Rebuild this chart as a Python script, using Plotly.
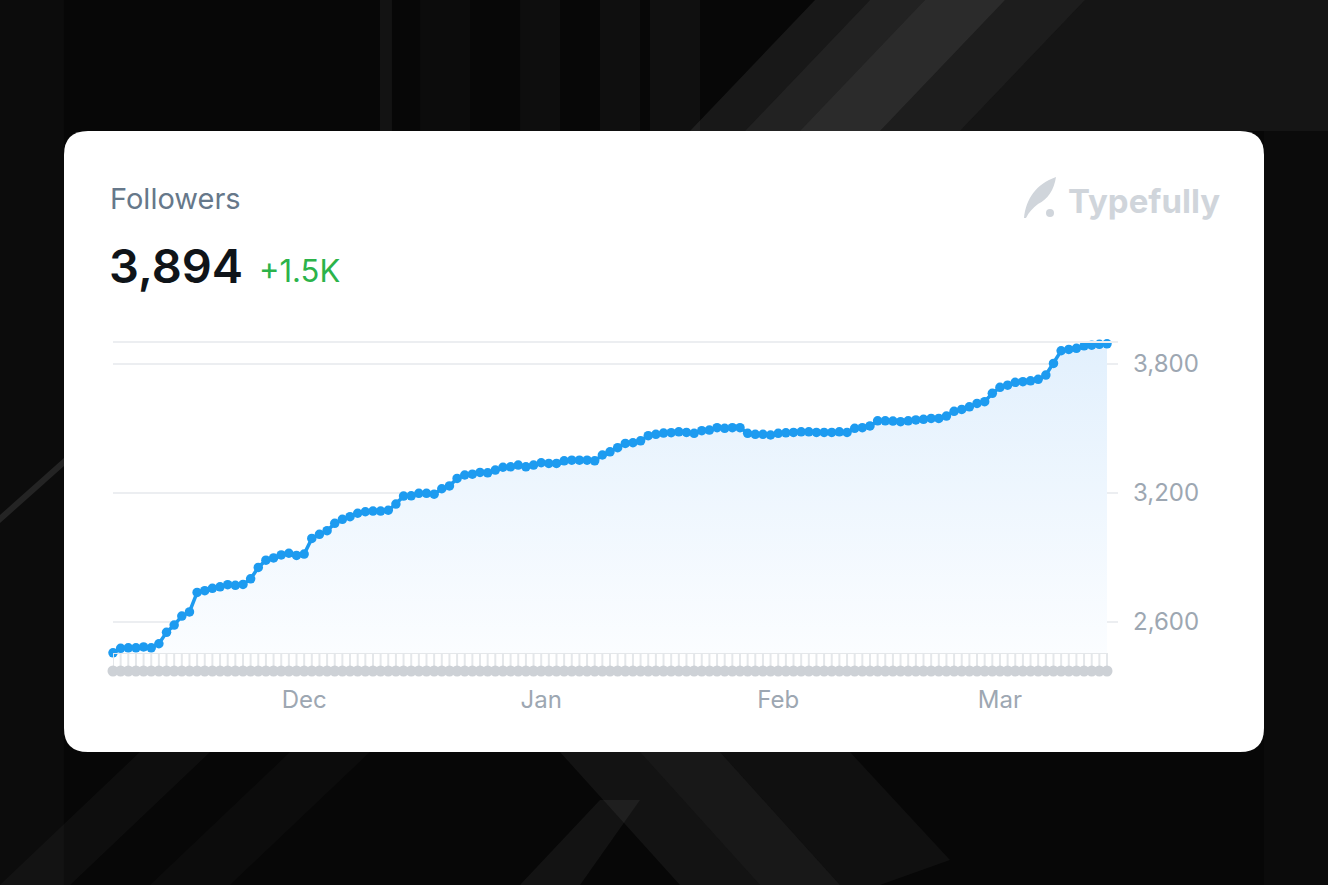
import plotly.graph_objects as go
import pandas as pd

W, H = 1328, 885

# ---------------- data ----------------
dates = pd.date_range("2023-11-06", periods=131, freq="D")
followers = [
    2457, 2478, 2480, 2480, 2484, 2480, 2499, 2552, 2586, 2628,
    2647, 2738, 2746, 2757, 2764, 2774, 2771, 2775, 2801, 2854,
    2888, 2898, 2912, 2920, 2910, 2916, 2989, 3008, 3025, 3059,
    3078, 3090, 3106, 3113, 3116, 3116, 3120, 3149, 3186, 3187,
    3199, 3199, 3195, 3220, 3233, 3268, 3284, 3288, 3296, 3294,
    3307, 3320, 3322, 3330, 3322, 3330, 3341, 3338, 3338, 3350,
    3353, 3353, 3353, 3350, 3377, 3392, 3411, 3431, 3434, 3443,
    3467, 3473, 3479, 3481, 3485, 3482, 3478, 3490, 3493, 3504,
    3501, 3504, 3504, 3478, 3473, 3473, 3470, 3478, 3480, 3482,
    3485, 3485, 3482, 3482, 3482, 3485, 3482, 3501, 3504, 3512,
    3536, 3536, 3535, 3532, 3536, 3540, 3543, 3547, 3547, 3558,
    3580, 3589, 3601, 3617, 3625, 3664, 3692, 3702, 3715, 3718,
    3722, 3729, 3749, 3803, 3862, 3868, 3873, 3885, 3888, 3892,
    3894,
]
post_strip = [0] * len(dates)          # baseline activity strip (one dot per day)
y_ticks = [2600, 3200, 3800]
month_ticks = ["2023-12-01", "2024-01-01", "2024-02-01", "2024-03-01"]
month_labels = ["Dec", "Jan", "Feb", "Mar"]
title_text = "Followers"
total_text = "3,894"
change_text = "+1.5K"
brand_text = "Typefully"

# ---------------- helpers ----------------
def px(x):
    return x / W


def py(y):
    return 1 - y / H


Y_MIN, Y_MAX = 2456, 3898
x_end = dates[-1] + pd.Timedelta(hours=34.5)

BLUE = "#1d9bf0"
GRID = "#eceef1"
TICK = "#9da7b2"

fig = go.Figure()

# area + line
fig.add_trace(go.Scatter(
    x=dates, y=followers, mode="lines+markers",
    line=dict(color=BLUE, width=3.5),
    marker=dict(size=9.5, color=BLUE),
    fill="tozeroy",
    fillgradient=dict(type="vertical",
                      colorscale=[[0, "#fbfdff"], [1, "#e2f0fd"]],
                      start=Y_MIN, stop=max(followers)),
    cliponaxis=False, hoverinfo="skip", xaxis="x", yaxis="y",
))

# strip: stems
sx, sy = [], []
for d in dates:
    sx += [d, d, None]
    sy += [0, 1, None]
fig.add_trace(go.Scatter(x=sx, y=sy, mode="lines",
                         line=dict(color="#e4e7ea", width=2),
                         hoverinfo="skip", xaxis="x2", yaxis="y2"))
fig.add_trace(go.Scatter(x=[dates[0], dates[-1]], y=[1, 1], mode="lines",
                         line=dict(color="#e4e7ea", width=2),
                         hoverinfo="skip", xaxis="x2", yaxis="y2"))
fig.add_trace(go.Scatter(x=dates, y=post_strip, mode="markers",
                         marker=dict(size=11, color="#cdd1d6"),
                         cliponaxis=False, hoverinfo="skip",
                         xaxis="x2", yaxis="y2"))

# ---------------- shapes ----------------
shapes = []


def poly(points, color):
    d = "M " + " L ".join(f"{px(x):.5f},{py(y):.5f}" for x, y in points) + " Z"
    shapes.append(dict(type="path", path=d, xref="paper", yref="paper",
                       fillcolor=color, line=dict(width=0), layer="below"))


# background streaks (decorative)
for a, b, op in [(380, 392, 0.05), (420, 470, 0.025), (520, 560, 0.03),
                 (600, 640, 0.035), (650, 700, 0.04)]:
    poly([(a, 0), (b, 0), (b, 131), (a, 131)], f"rgba(255,255,255,{op})")
poly([(690, 131), (745, 131), (870, 0), (815, 0)], "rgba(255,255,255,0.07)")
poly([(745, 131), (800, 131), (925, 0), (870, 0)], "rgba(255,255,255,0.11)")
poly([(800, 131), (880, 131), (1005, 0), (925, 0)], "rgba(255,255,255,0.15)")
poly([(880, 131), (960, 131), (1085, 0), (1005, 0)], "rgba(255,255,255,0.09)")
poly([(960, 131), (1328, 131), (1328, 0), (1085, 0)], "rgba(255,255,255,0.06)")
poly([(1264, 131), (1328, 131), (1328, 885), (1264, 885)], "rgba(255,255,255,0.02)")
poly([(0, 0), (64, 0), (64, 885), (0, 885)], "rgba(255,255,255,0.025)")
poly([(0, 515), (64, 458), (64, 466), (0, 523)], "rgba(255,255,255,0.10)")
poly([(0, 885), (70, 885), (210, 752), (140, 752)], "rgba(255,255,255,0.03)")
poly([(150, 885), (230, 885), (370, 752), (290, 752)], "rgba(255,255,255,0.025)")
poly([(560, 752), (640, 752), (760, 885), (680, 885)], "rgba(255,255,255,0.05)")
poly([(640, 752), (720, 752), (840, 885), (760, 885)], "rgba(255,255,255,0.07)")
poly([(720, 752), (850, 752), (950, 860), (880, 885), (840, 885)], "rgba(255,255,255,0.04)")
poly([(520, 885), (600, 800), (640, 800), (580, 885)], "rgba(255,255,255,0.05)")

# card with rounded corners
x0, y0, x1, y1, r = 64, 131, 1264, 752, 24
pts = [
    ("M", (x0 + r, y0)), ("L", (x1 - r, y0)), ("Q", (x1, y0), (x1, y0 + r)),
    ("L", (x1, y1 - r)), ("Q", (x1, y1), (x1 - r, y1)), ("L", (x0 + r, y1)),
    ("Q", (x0, y1), (x0, y1 - r)), ("L", (x0, y0 + r)), ("Q", (x0, y0), (x0 + r, y0)),
]
path = ""
for p in pts:
    coords = " ".join(f"{px(a):.5f},{py(b):.5f}" for a, b in p[1:])
    path += f"{p[0]} {coords} "
path += "Z"
shapes.append(dict(type="path", path=path, xref="paper", yref="paper",
                   fillcolor="#ffffff", line=dict(width=0), layer="below"))

# feather logo
feather = [("M", (1024, 218)),
           ("C", (1026, 199), (1036, 184), (1056, 177)),
           ("C", (1054, 190), (1048, 199), (1038, 204)),
           ("C", (1033, 208), (1029, 212), (1026, 218))]
fpath = ""
for p in feather:
    coords = " ".join(f"{px(a):.5f},{py(b):.5f}" for a, b in p[1:])
    fpath += f"{p[0]} {coords} "
fpath += "Z"
shapes.append(dict(type="path", path=fpath, xref="paper", yref="paper",
                   fillcolor="#d0d5db", line=dict(width=0), layer="above"))
shapes.append(dict(type="circle", xref="paper", yref="paper",
                   x0=px(1046), x1=px(1054), y0=py(217), y1=py(209),
                   fillcolor="#d0d5db", line=dict(width=0), layer="above"))

# ---------------- annotations ----------------
FONT = "Inter, Roboto, sans-serif"
annotations = [
    dict(text=title_text, x=px(108), y=py(199), xref="paper", yref="paper",
         xanchor="left", yanchor="middle", showarrow=False,
         font=dict(family=FONT, size=29, color="#66788a")),
    dict(text=total_text, x=px(107), y=py(265), xref="paper", yref="paper",
         xanchor="left", yanchor="middle", showarrow=False,
         font=dict(family=FONT, size=47, color="#0f1419", weight=600)),
    dict(text=change_text, x=px(257), y=py(270), xref="paper", yref="paper",
         xanchor="left", yanchor="middle", showarrow=False,
         font=dict(family=FONT, size=31, color="#2cb34a")),
    dict(text=brand_text, x=px(1066), y=py(201), xref="paper", yref="paper",
         xanchor="left", yanchor="middle", showarrow=False,
         font=dict(family=FONT, size=33, color="#d0d5db", weight=700)),
]

fig.update_layout(
    width=W, height=H,
    margin=dict(l=0, r=0, t=0, b=0),
    paper_bgcolor="#070707",
    plot_bgcolor="rgba(0,0,0,0)",
    showlegend=False,
    shapes=shapes,
    annotations=annotations,
    font=dict(family=FONT),
    xaxis=dict(domain=[px(113), px(1118)], range=[dates[0], x_end],
               anchor="y", side="top", showline=True, linecolor=GRID, linewidth=2,
               showgrid=False, zeroline=False, showticklabels=False, ticks=""),
    yaxis=dict(domain=[py(653), py(343)], range=[Y_MIN, Y_MAX], anchor="x",
               side="right", tickvals=y_ticks, tickformat=",",
               showgrid=True, gridcolor=GRID, gridwidth=2, zeroline=False,
               showline=False, ticks="", ticklabelstandoff=14,
               tickfont=dict(family=FONT, size=24, color=TICK)),
    xaxis2=dict(domain=[px(113), px(1118)], range=[dates[0], x_end],
                anchor="y2", tickvals=month_ticks, ticktext=month_labels,
                showgrid=False, zeroline=False, showline=False, ticks="",
                ticklabelstandoff=5,
                tickfont=dict(family=FONT, size=24, color=TICK)),
    yaxis2=dict(domain=[py(678), py(653)], range=[-0.39, 1], anchor="x2",
                visible=False),
)

fig.write_html(
    "out.html",
    config={"displayModeBar": False},
    post_script="document.body.style.margin='0';document.body.style.overflow='hidden';",
)
